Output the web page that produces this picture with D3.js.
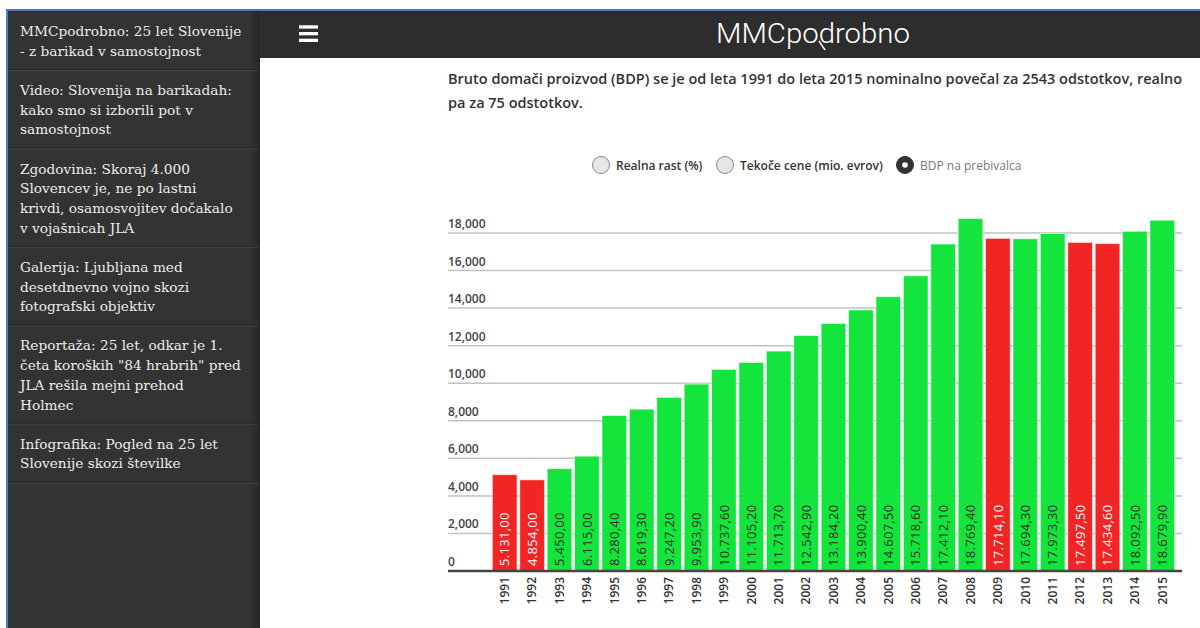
<!DOCTYPE html>
<html>
<head>
<meta charset="utf-8">
<script src="https://cdn.jsdelivr.net/npm/d3@7"></script>
<style>
  body { margin: 0; background: #fff; }
  svg { display: block; }
</style>
</head>
<body>
<div class="page"></div>
<script>
var years = [1991, 1992, 1993, 1994, 1995, 1996, 1997, 1998, 1999, 2000, 2001, 2002, 2003,
             2004, 2005, 2006, 2007, 2008, 2009, 2010, 2011, 2012, 2013, 2014, 2015];
var gdpPerCapita = [5131.0, 4854.0, 5450.0, 6115.0, 8280.4, 8619.3, 9247.2, 9953.9, 10737.6,
                    11105.2, 11713.7, 12542.9, 13184.2, 13900.4, 14607.5, 15718.6, 17412.1,
                    18769.4, 17714.1, 17694.3, 17973.3, 17497.5, 17434.6, 18092.5, 18679.9];
// years with negative real growth are drawn red
var declineYears = [1991, 1992, 2009, 2012, 2013];
var yTicks = [0, 2000, 4000, 6000, 8000, 10000, 12000, 14000, 16000, 18000];

var introLines = [
  "Bruto domači proizvod (BDP) se je od leta 1991 do leta 2015 nominalno povečal za 2543 odstotkov, realno",
  "pa za 75 odstotkov."
];
var options = ["Realna rast (%)", "Tekoče cene (mio. evrov)", "BDP na prebivalca"];
var selectedOption = 2;

var menuItems = [
  ["MMCpodrobno: 25 let Slovenije", "- z barikad v samostojnost"],
  ["Video: Slovenija na barikadah:", "kako smo si izborili pot v", "samostojnost"],
  ["Zgodovina: Skoraj 4.000", "Slovencev je, ne po lastni", "krivdi, osamosvojitev dočakalo", "v vojašnicah JLA"],
  ["Galerija: Ljubljana med", "desetdnevno vojno skozi", "fotografski objektiv"],
  ["Reportaža: 25 let, odkar je 1.", "četa koroških \"84 hrabrih\" pred", "JLA rešila mejni prehod", "Holmec"],
  ["Infografika: Pogled na 25 let", "Slovenije skozi številke"]
];

var width = 1200;
var height = 628;

var svg = d3.select(".page")
  .append("svg")
    .attr("width", width)
    .attr("height", height);

// page frame: blue border, header bar, sidebar
svg.append("rect").attr("x", 6).attr("y", 9).attr("width", width - 6).attr("height", 2).attr("fill", "#4a7bc2");
svg.append("rect").attr("x", 6).attr("y", 9).attr("width", 2).attr("height", height - 9).attr("fill", "#4a7bc2");
svg.append("rect").attr("x", 8).attr("y", 11).attr("width", width - 8).attr("height", 47).attr("fill", "#2d2d2d");

var defs = svg.append("defs");
var shade = defs.append("linearGradient").attr("id", "sideShade");
shade.append("stop").attr("offset", "0%").attr("stop-color", "#333");
shade.append("stop").attr("offset", "100%").attr("stop-color", "#262626");

svg.append("rect").attr("x", 8).attr("y", 11).attr("width", 252).attr("height", height - 11).attr("fill", "#333");
svg.append("rect").attr("x", 250).attr("y", 11).attr("width", 10).attr("height", height - 11).attr("fill", "url(#sideShade)");

// sidebar menu
var lineH = 19.7;
var itemTop = 11;
menuItems.forEach(function(lines) {
  var g = svg.append("g");
  var y0 = itemTop;
  g.selectAll("text")
    .data(lines)
    .enter()
    .append("text")
      .attr("x", 20)
      .attr("y", function(d, i) { return y0 + 25 + i * lineH; })
      .attr("fill", "#ececec")
      .attr("font-family", "DejaVu Serif")
      .attr("font-size", "13.7px")
      .text(function(d) { return d; });
  itemTop += lines.length * lineH + 19.5;
  g.append("rect").attr("x", 8).attr("y", itemTop - 1).attr("width", 250).attr("height", 1).attr("fill", "#222");
  g.append("rect").attr("x", 8).attr("y", itemTop).attr("width", 250).attr("height", 1).attr("fill", "#444");
});

// header: menu icon + logo
[25.3, 32, 38.7].forEach(function(yy) {
  svg.append("rect").attr("x", 299).attr("y", yy).attr("width", 19).attr("height", 3.3).attr("fill", "#fff");
});
svg.append("text")
  .attr("x", 716)
  .attr("y", 43)
  .attr("textLength", 194)
  .attr("lengthAdjust", "spacingAndGlyphs")
  .attr("fill", "#fff")
  .attr("font-family", "Roboto")
  .attr("font-weight", 300)
  .attr("font-size", "28px")
  .text("MMCpodrobno");
svg.append("line")
  .attr("x1", 819).attr("y1", 41).attr("x2", 825).attr("y2", 50)
  .attr("stroke", "#fff").attr("stroke-width", 1.5);

// intro text, sized so the first line spans the column
var intro = svg.selectAll(".intro")
  .data(introLines)
  .enter()
  .append("text")
    .attr("class", "intro")
    .attr("x", 448)
    .attr("y", function(d, i) { return 84 + i * 24; })
    .attr("fill", "#333")
    .attr("font-family", "Open Sans")
    .attr("font-weight", 600)
    .attr("font-size", "14px")
    .text(function(d) { return d; });
var natural = intro.node().getComputedTextLength();
intro.attr("font-size", (14 * 735 / natural) + "px");

// radio buttons
var radioX = [601, 725, 905];
var radio = svg.selectAll(".opt")
  .data(options)
  .enter()
  .append("g")
    .attr("class", "opt")
    .attr("transform", function(d, i) { return "translate(" + radioX[i] + ",165)"; });
radio.append("circle")
  .attr("r", 8.5)
  .attr("fill", function(d, i) { return i === selectedOption ? "#333" : "#e6e6e6"; })
  .attr("stroke", function(d, i) { return i === selectedOption ? "#333" : "#8a8a8a"; })
  .attr("stroke-width", 1);
radio.filter(function(d, i) { return i === selectedOption; })
  .append("circle")
    .attr("r", 2.8)
    .attr("fill", "#fff");
radio.append("text")
  .attr("x", 15)
  .attr("y", 5)
  .attr("fill", function(d, i) { return i === selectedOption ? "#777" : "#333"; })
  .attr("font-family", "Open Sans")
  .attr("font-weight", function(d, i) { return i === selectedOption ? 400 : 600; })
  .attr("font-size", "12px")
  .text(function(d) { return d; });

// chart
var x = d3.scaleBand()
  .domain(years)
  .range([491, 1176])
  .paddingInner(0.1)
  .paddingOuter(0.05);
var y = d3.scaleLinear()
  .domain([0, 18000])
  .range([571, 233]);

var slFormat = d3.formatLocale({ decimal: ",", thousands: ".", grouping: [3], currency: ["", "€"] }).format(",.2f");
var tickFormat = d3.format(",");

var grid = svg.append("g");
grid.selectAll("line")
  .data(yTicks.slice(1))
  .enter()
  .append("line")
    .attr("x1", 448)
    .attr("x2", 1182)
    .attr("y1", function(d) { return y(d); })
    .attr("y2", function(d) { return y(d); })
    .attr("stroke", "#c2c2c2")
    .attr("stroke-width", 1.5);
grid.selectAll("text")
  .data(yTicks)
  .enter()
  .append("text")
    .attr("x", 448)
    .attr("y", function(d) { return y(d) - 5; })
    .attr("fill", "#444")
    .attr("font-family", "Open Sans")
    .attr("font-weight", 600)
    .attr("font-size", "12px")
    .text(function(d) { return tickFormat(d); });

var isDecline = function(i) { return declineYears.indexOf(years[i]) >= 0; };

svg.selectAll(".bar")
  .data(gdpPerCapita)
  .enter()
  .append("rect")
    .attr("class", "bar")
    .attr("x", function(d, i) { return x(years[i]); })
    .attr("y", function(d) { return y(d); })
    .attr("width", x.bandwidth())
    .attr("height", function(d) { return y(0) - y(d); })
    .attr("fill", function(d, i) { return isDecline(i) ? "#f22424" : "#14e53c"; })
    .attr("stroke", "rgba(255,255,255,0.55)")
    .attr("stroke-width", 1);

svg.append("line")
  .attr("x1", 448)
  .attr("x2", 1182)
  .attr("y1", y(0))
  .attr("y2", y(0))
  .attr("stroke", "#444")
  .attr("stroke-width", 2.7);

// values inside the bars
svg.selectAll(".value")
  .data(gdpPerCapita)
  .enter()
  .append("text")
    .attr("class", "value")
    .attr("transform", function(d, i) {
      return "translate(" + (x(years[i]) + x.bandwidth() / 2) + ",566) rotate(-90)";
    })
    .attr("dy", "0.36em")
    .attr("fill", function(d, i) { return isDecline(i) ? "#fff" : "#2a2a2a"; })
    .attr("font-family", "Open Sans")
    .attr("font-weight", 500)
    .attr("font-size", "13px")
    .attr("letter-spacing", "0.3px")
    .text(function(d) { return slFormat(d); });

// year labels
svg.selectAll(".year")
  .data(years)
  .enter()
  .append("text")
    .attr("class", "year")
    .attr("transform", function(d) {
      return "translate(" + (x(d) + x.bandwidth() / 2) + ",577) rotate(-90)";
    })
    .attr("dy", "0.36em")
    .attr("text-anchor", "end")
    .attr("fill", "#333")
    .attr("font-family", "Open Sans")
    .attr("font-weight", 600)
    .attr("font-size", "12px")
    .text(function(d) { return d; });
</script>
</body>
</html>
